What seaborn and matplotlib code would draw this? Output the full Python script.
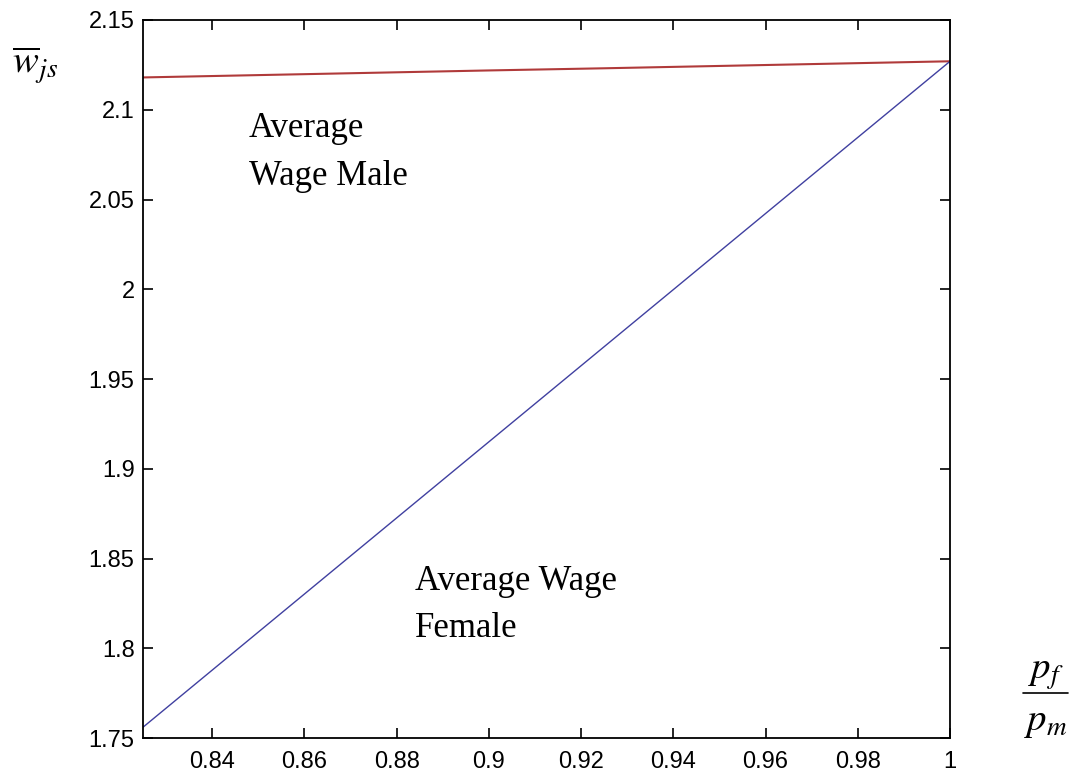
import numpy as np
import pandas as pd
import matplotlib
matplotlib.use("Agg")
import matplotlib.pyplot as plt
import seaborn as sns
from matplotlib.ticker import FuncFormatter
from matplotlib.lines import Line2D

# Data
price_ratio = [0.825, 0.85, 0.875, 0.90, 0.925, 0.95, 0.975, 1.0]
wage_male = [2.118, 2.1193, 2.1206, 2.1219, 2.1231, 2.1244, 2.1257, 2.127]
wage_female = [1.756, 1.809, 1.862, 1.915, 1.968, 2.021, 2.074, 2.127]
x_ticks = [0.84, 0.86, 0.88, 0.90, 0.92, 0.94, 0.96, 0.98, 1.0]
y_ticks = [1.75, 1.80, 1.85, 1.90, 1.95, 2.00, 2.05, 2.10, 2.15]

sns.set_style("ticks")
plt.rcParams['font.family'] = ['Liberation Sans', 'DejaVu Sans']
plt.rcParams['mathtext.fontset'] = 'stix'
plt.rcParams['text.color'] = 'black'

fig = plt.figure(figsize=(10.7, 7.75), dpi=100)
ax = fig.add_axes([0.1336, 0.0477, 0.8879 - 0.1336, 0.9742 - 0.0477])

df = pd.DataFrame({"ratio": price_ratio, "male": wage_male, "female": wage_female})
sns.lineplot(data=df, x="ratio", y="male", ax=ax, color="#b03a3a", linewidth=1.5)
sns.lineplot(data=df, x="ratio", y="female", ax=ax, color="#4040a0", linewidth=1.0)

ax.set_xlim(0.825, 1.0)
ax.set_ylim(1.75, 2.15)
ax.set_xticks(x_ticks)
ax.set_yticks(y_ticks)
fmt = FuncFormatter(lambda v, p: f"{v:g}")
ax.xaxis.set_major_formatter(fmt)
ax.yaxis.set_major_formatter(fmt)
ax.tick_params(direction='in', length=7, width=1.2, top=True, right=True,
               labelsize=17, colors='black')
ax.tick_params(axis='x', pad=9)
ax.tick_params(axis='y', pad=6)
for s in ax.spines.values():
    s.set_visible(True)
    s.set_linewidth(1.3)
    s.set_color('black')
ax.set_xlabel("")
ax.set_ylabel("")

serif = ['Liberation Serif', 'DejaVu Serif']
kw = dict(family=serif, fontsize=25, va='baseline', ha='left', color='black')
ax.text(0.848, 2.0848, "Average", **kw)
ax.text(0.848, 2.058, "Wage Male", **kw)
ax.text(0.884, 1.8325, "Average Wage", **kw)
ax.text(0.884, 1.8063, "Female", **kw)

# axis labels (MATLAB-style placements)
fig.text(12 / 1070, 1 - 74 / 775, r"$\overline{w}_{js}$", fontsize=28, va='baseline', ha='left')
fig.text(1046 / 1070, 1 - 679 / 775, r"$p_f$", fontsize=28, va='baseline', ha='center')
fig.text(1046 / 1070, 1 - 730 / 775, r"$p_m$", fontsize=28, va='baseline', ha='center')
fig.add_artist(Line2D([1023 / 1070, 1068 / 1070], [1 - 693 / 775, 1 - 693 / 775],
                      transform=fig.transFigure, color='black', linewidth=1.2))

fig.savefig("out.png", dpi=100)
